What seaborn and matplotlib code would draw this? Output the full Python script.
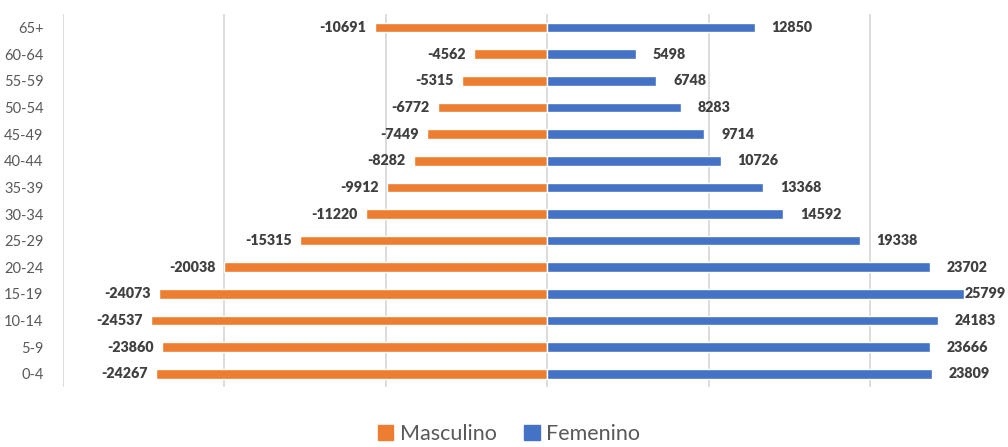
import matplotlib
matplotlib.use("Agg")
import matplotlib.pyplot as plt
import seaborn as sns
import pandas as pd
from matplotlib.patches import Patch

# Age groups, top to bottom as in the chart
age_groups = ["65+", "60-64", "55-59", "50-54", "45-49", "40-44", "35-39",
              "30-34", "25-29", "20-24", "15-19", "10-14", "5-9", "0-4"]
masculino = [-10691, -4562, -5315, -6772, -7449, -8282, -9912,
             -11220, -15315, -20038, -24073, -24537, -23860, -24267]
femenino = [12850, 5498, 6748, 8283, 9714, 10726, 13368,
            14592, 19338, 23702, 25799, 24183, 23666, 23809]

colors = {"Masculino": "#ED7D31", "Femenino": "#4472C4"}

df = pd.concat([
    pd.DataFrame({"edad": age_groups, "valor": masculino, "sexo": "Masculino"}),
    pd.DataFrame({"edad": age_groups, "valor": femenino, "sexo": "Femenino"}),
])

sns.set_style("white")
plt.rcParams["font.family"] = ["Lato", "DejaVu Sans"]

fig = plt.figure(figsize=(10.08, 4.47), dpi=100)
ax = fig.add_axes([0.0625, 0.134, 0.9613, 0.834])

sns.barplot(data=df, x="valor", y="edad", hue="sexo", order=age_groups,
            palette=colors, dodge=False, width=0.36, orient="h",
            legend=False, ax=ax, saturation=1)

ax.set_xlim(-30000, 30000)
ax.set_xticks(range(-30000, 30001, 10000))
ax.set_xticklabels([])
ax.tick_params(axis="x", length=0)
ax.tick_params(axis="y", length=0, pad=14, labelsize=10.5, labelcolor="#595959")
ax.grid(axis="x", color="#d9d9d9", linewidth=1.3)
ax.set_axisbelow(True)
for s in ax.spines.values():
    s.set_visible(False)
ax.set_xlabel("")
ax.set_ylabel("")

# Data labels
for i, v in enumerate(masculino):
    ax.annotate(str(v), (v, i), xytext=(-6, 0), textcoords="offset points",
                ha="right", va="center", fontsize=10.3, fontweight="heavy",
                color="#404040")
for i, v in enumerate(femenino):
    off = 0.5 if v > 25000 else 12
    ax.annotate(str(v), (v, i), xytext=(off, 0), textcoords="offset points",
                ha="left", va="center", fontsize=10.3, fontweight="heavy",
                color="#404040", annotation_clip=False)

handles = [Patch(color=colors["Masculino"], label="Masculino"),
           Patch(color=colors["Femenino"], label="Femenino")]
fig.legend(handles=handles, loc="center", bbox_to_anchor=(0.505, 0.028),
           ncol=2, frameon=False, fontsize=15.5, handlelength=0.7,
           handleheight=0.7, handletextpad=0.3, columnspacing=1.3,
           labelcolor="#595959", borderpad=0)

fig.savefig("out.png", dpi=100)
